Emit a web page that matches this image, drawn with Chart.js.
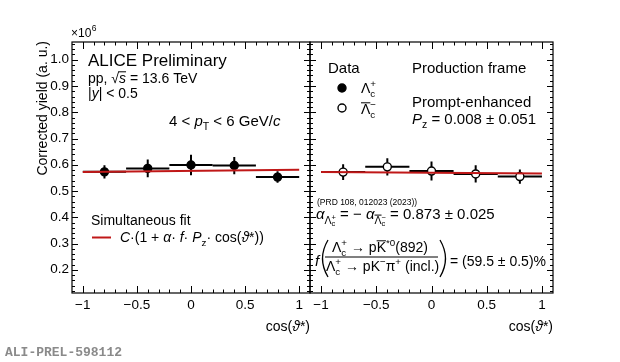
<!DOCTYPE html>
<html>
<head>
<meta charset="utf-8">
<script src="https://cdn.jsdelivr.net/npm/chart.js@4"></script>
<style>
  html, body { margin: 0; padding: 0; background: #fff; }
  #wrap { position: relative; width: 620px; height: 362px; }
  canvas { position: absolute; left: 0; top: 0; }
</style>
</head>
<body>
<div id="wrap">
  <canvas id="leftPanel" width="620" height="362"></canvas>
  <canvas id="rightPanel" width="620" height="362"></canvas>
</div>
<script>
// bins in cos(theta*)
const binCenters = [-0.8, -0.4, 0, 0.4, 0.8];
const binHalfWidth = [0.2, 0.2, 0.2, 0.2, 0.2];

// Lambda_c+ (left) and anti-Lambda_c- (right), units of 1e6
const lcYield    = [0.573, 0.586, 0.599, 0.597, 0.553];
const lcErr      = [0.025, 0.034, 0.039, 0.033, 0.022];
const lcbarYield = [0.572, 0.592, 0.576, 0.565, 0.555];
const lcbarErr   = [0.030, 0.033, 0.036, 0.033, 0.027];

// simultaneous fit, evaluated at the ends of the range
const fitX       = [-1, 1];
const lcFit      = [0.572, 0.581];
const lcbarFit   = [0.572, 0.567];

// axis ticks
const xTickValues = [-1, -0.5, 0, 0.5, 1];
const xTickLabels = ["\u22121", "\u22120.5", "0", "0.5", "1"];
const yTickValues = [0.2, 0.3, 0.4, 0.5, 0.6, 0.7, 0.8, 0.9, 1.0];
const yTickLabels = ["0.2", "0.3", "0.4", "0.5", "0.6", "0.7", "0.8", "0.9", "1.0"];

const FONT = "'Liberation Sans', Arial, sans-serif";
const RED = "#c01818";
const X_MIN = -1.1, X_MAX = 1.1;
const Y_MIN = 0.1115, Y_MAX = 1.0676;

// small rich-text helper: italic, sub/sup, overline
function rich(ctx, x, y, segs, size) {
  let cx = x, keep = null;
  ctx.textAlign = "left";
  ctx.textBaseline = "alphabetic";
  for (const s of segs) {
    const fs = size * (s.s || 1);
    ctx.font = (s.i ? "italic " : "") + fs + "px " + FONT;
    const yy = y + (s.dy || 0) * size;
    const startX = keep ? keep.x : cx;
    ctx.fillText(s.t, startX, yy);
    const w = ctx.measureText(s.t).width;
    if (s.bar) {
      ctx.save();
      ctx.lineWidth = 1;
      ctx.beginPath();
      const by = yy - fs * 0.8;
      ctx.moveTo(startX + (s.bx || 0), by);
      ctx.lineTo(startX + w, by);
      ctx.stroke();
      ctx.restore();
    }
    if (s.k) {
      keep = { x: startX, w };
    } else if (keep) {
      cx = startX + Math.max(w, keep.w);
      keep = null;
    } else {
      cx = startX + w;
    }
  }
  return cx;
}
const T = t => ({ t });
const I = t => ({ t, i: 1 });
const Sub = (t, extra) => Object.assign({ t, s: 0.7, dy: 0.28 }, extra || {});
const Sup = (t, extra) => Object.assign({ t, s: 0.7, dy: -0.42 }, extra || {});
const LcPlus  = () => [T("\u039B"), Sub("c", { k: 1 }), Sup("+")];
const LcMinus = () => [{ t: "\u039B", bar: 1 }, Sub("c", { k: 1 }), Sup("\u2212")];

function marker(ctx, x, y, open) {
  ctx.beginPath();
  ctx.arc(x, y, 4, 0, Math.PI * 2);
  ctx.fillStyle = open ? "#fff" : "#000";
  ctx.fill();
  ctx.lineWidth = 1.4;
  ctx.strokeStyle = "#000";
  ctx.stroke();
}

const panelPlugin = {
  id: "panel",
  beforeDatasetsDraw(chart, args, opts) {
    const ctx = chart.ctx, xs = chart.scales.x, ys = chart.scales.y;
    ctx.save();
    ctx.strokeStyle = "#000";
    ctx.lineWidth = 2;
    binCenters.forEach((c, i) => {
      const v = opts.values[i], e = opts.errors[i];
      ctx.beginPath();
      ctx.moveTo(xs.getPixelForValue(c - binHalfWidth[i]), ys.getPixelForValue(v));
      ctx.lineTo(xs.getPixelForValue(c + binHalfWidth[i]), ys.getPixelForValue(v));
      ctx.moveTo(xs.getPixelForValue(c), ys.getPixelForValue(v - e));
      ctx.lineTo(xs.getPixelForValue(c), ys.getPixelForValue(v + e));
      ctx.stroke();
    });
    ctx.restore();
  },
  afterDraw(chart, args, opts) {
    const ctx = chart.ctx, xs = chart.scales.x, ys = chart.scales.y;
    const a = chart.chartArea;
    ctx.save();
    ctx.strokeStyle = "#000";
    ctx.fillStyle = "#000";
    ctx.lineWidth = 1.2;
    ctx.strokeRect(a.left, a.top, a.right - a.left, a.bottom - a.top);

    // inward ticks, x
    ctx.lineWidth = 1;
    ctx.beginPath();
    for (let k = -10; k <= 10; k++) {
      const px = Math.round(xs.getPixelForValue(k / 10)) + 0.5;
      const len = k % 5 === 0 ? 7 : 3.5;
      ctx.moveTo(px, a.bottom); ctx.lineTo(px, a.bottom - len);
      ctx.moveTo(px, a.top); ctx.lineTo(px, a.top + len);
    }
    // inward ticks, y
    for (let k = 6; k <= 53; k++) {
      const py = Math.round(ys.getPixelForValue(k / 50)) + 0.5;
      const len = k % 5 === 0 ? 6 : 3;
      ctx.moveTo(a.left, py); ctx.lineTo(a.left + len, py);
      ctx.moveTo(a.right, py); ctx.lineTo(a.right - len, py);
    }
    ctx.stroke();

    // tick labels
    ctx.font = "13.5px " + FONT;
    ctx.textAlign = "center";
    ctx.textBaseline = "alphabetic";
    xTickValues.forEach((v, i) => {
      ctx.fillText(xTickLabels[i], xs.getPixelForValue(v), 309);
    });
    if (opts.side === "left") {
      ctx.textAlign = "right";
      ctx.textBaseline = "middle";
      yTickValues.forEach((v, i) => {
        ctx.fillText(yTickLabels[i], 69, ys.getPixelForValue(v));
      });
    }

    // x axis title, right aligned to the frame
    ctx.textBaseline = "alphabetic";
    ctx.font = "14px " + FONT;
    let tw = ctx.measureText("cos(").width + ctx.measureText("*)").width;
    ctx.font = "italic 14px " + FONT;
    tw += ctx.measureText("\u03D1").width;
    rich(ctx, a.right - tw, 331, [T("cos("), I("\u03D1"), T("*)")], 14);

    opts.texts(ctx, a);
    ctx.restore();
  }
};
Chart.register(panelPlugin);

function panelConfig(values, errors, fit, open, side, texts) {
  return {
    type: "scatter",
    data: {
      datasets: [
        {
          data: fitX.map((x, i) => ({ x, y: fit[i] })),
          showLine: true,
          borderColor: RED,
          borderWidth: 2,
          pointRadius: 0,
          order: 0
        },
        {
          data: binCenters.map((x, i) => ({ x, y: values[i] })),
          pointRadius: 4,
          pointBorderWidth: 1.4,
          backgroundColor: open ? "#fff" : "#000",
          borderColor: "#000",
          order: 1
        }
      ]
    },
    options: {
      responsive: false,
      animation: false,
      events: [],
      clip: false,
      layout: {
        padding: side === "left"
          ? { left: 72, right: 310, top: 42, bottom: 69 }
          : { left: 310, right: 67, top: 42, bottom: 69 }
      },
      scales: {
        x: { type: "linear", min: X_MIN, max: X_MAX, display: false },
        y: { type: "linear", min: Y_MIN, max: Y_MAX, display: false }
      },
      plugins: {
        legend: { display: false },
        tooltip: { enabled: false },
        panel: { values, errors, side, texts }
      }
    }
  };
}

function leftTexts(ctx, a) {
  ctx.fillStyle = "#000";
  rich(ctx, 88, 66, [T("ALICE Preliminary")], 17);
  rich(ctx, 88, 83, [T("pp, \u221A"), { t: "s", i: 1, bar: 1, bx: -1 }, T(" = 13.6 TeV")], 14);
  rich(ctx, 88, 98, [T("|"), I("y"), T("| < 0.5")], 14);
  rich(ctx, 169, 126, [T("4 < "), I("p"), Sub("T"), T(" < 6 GeV/"), I("c")], 15);

  rich(ctx, 91, 225, [T("Simultaneous fit")], 14);
  ctx.strokeStyle = RED;
  ctx.lineWidth = 2;
  ctx.beginPath();
  ctx.moveTo(92, 237.5); ctx.lineTo(111, 237.5);
  ctx.stroke();
  rich(ctx, 120, 242, [I("C"), T("\u00B7(1 + "), I("\u03B1"), T("\u00B7 "), I("f"), T("\u00B7 "),
    I("P"), Sub("z"), T("\u00B7 cos("), I("\u03D1"), T("*))")], 14);

  // y axis multiplier and title
  const endX = rich(ctx, 71, 37, [T("\u00D710")], 12);
  rich(ctx, endX + 0.5, 31, [T("6")], 8.5);
  ctx.save();
  ctx.translate(47, 41);
  ctx.rotate(-Math.PI / 2);
  ctx.font = "14px " + FONT;
  ctx.textAlign = "right";
  ctx.fillText("Corrected yield (a. u.)", 0, 0);
  ctx.restore();

  ctx.font = "bold 13px 'Liberation Mono', 'DejaVu Sans Mono', monospace";
  ctx.fillStyle = "#8a8a8a";
  ctx.textAlign = "left";
  ctx.fillText("ALI-PREL-598112", 5, 356);
}

function rightTexts(ctx, a) {
  ctx.fillStyle = "#000";
  rich(ctx, 328, 73, [T("Data")], 15);
  marker(ctx, 342, 88, false);
  ctx.fillStyle = "#000";
  rich(ctx, 361, 93, LcPlus(), 14);
  marker(ctx, 342, 108, true);
  ctx.fillStyle = "#000";
  ctx.strokeStyle = "#000";
  rich(ctx, 361, 114, LcMinus(), 14);

  rich(ctx, 412, 73, [T("Production frame")], 15);
  rich(ctx, 412, 107, [T("Prompt-enhanced")], 15);
  rich(ctx, 412, 124, [I("P"), Sub("z"), T(" = 0.008 \u00B1 0.051")], 15);

  rich(ctx, 317, 205, [T("(PRD 108, 012023 (2023))")], 8.5);
  rich(ctx, 316, 219, [I("\u03B1"), { t: "\u039B", s: 0.7, dy: 0.3 }, { t: "c", s: 0.5, dy: 0.45, k: 1 }, { t: "+", s: 0.5, dy: 0.05 },
    T(" = \u2212 "), I("\u03B1"), { t: "\u039B", s: 0.7, dy: 0.3, bar: 1 }, { t: "c", s: 0.5, dy: 0.45, k: 1 }, { t: "\u2212", s: 0.5, dy: 0.05 },
    T(" = 0.873 \u00B1 0.025")], 15);

  // branching fraction
  rich(ctx, 315, 266, [I("f")], 15);
  ctx.strokeStyle = "#000";
  ctx.lineWidth = 1.3;
  ctx.beginPath();
  ctx.moveTo(328, 240); ctx.quadraticCurveTo(317, 258.5, 328, 277);
  ctx.moveTo(440, 240); ctx.quadraticCurveTo(451, 258.5, 440, 277);
  ctx.stroke();
  rich(ctx, 332, 252, LcPlus().concat([T(" \u2192 p"), { t: "K", bar: 1 }, Sup("*0"), T("(892)")]), 14);
  ctx.lineWidth = 1;
  ctx.beginPath();
  ctx.moveTo(325, 257); ctx.lineTo(438, 257);
  ctx.stroke();
  rich(ctx, 326, 271, LcPlus().concat([T(" \u2192 pK"), Sup("\u2212"), T("\u03C0"), Sup("+"), T(" (incl.)")]), 14);
  rich(ctx, 450, 266, [T("= (59.5 \u00B1 0.5)%")], 14);
}

new Chart(document.getElementById("leftPanel"),
  panelConfig(lcYield, lcErr, lcFit, false, "left", leftTexts));
new Chart(document.getElementById("rightPanel"),
  panelConfig(lcbarYield, lcbarErr, lcbarFit, true, "right", rightTexts));
</script>
</body>
</html>
